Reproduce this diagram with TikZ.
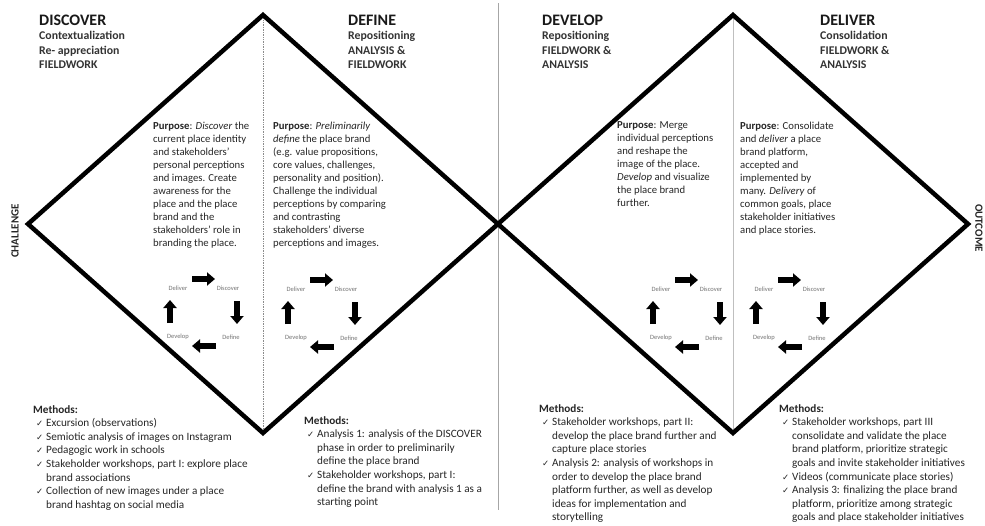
\documentclass[tikz,border=0pt]{standalone}
\usepackage{fontspec}
\setmainfont{Carlito}
\newfontfamily\symfont{DejaVu Sans}
\usetikzlibrary{arrows.meta}
\newcommand\chk{\hspace*{3pt}\makebox[10pt][l]{{\symfont\fontsize{8.5}{8.5}\selectfont ✓}}}
\newcommand\ind{\hspace*{13pt}}
\newcommand\cyc[3]{%
 \begin{scope}[shift={(#1,#2)}]
  \node[cl] (#3a) at (-25,-24) {Deliver};
  \node[cl] (#3b) at (25,-24) {Discover};
  \node[cl] (#3c) at (28,25) {Define};
  \node[cl] (#3d) at (-25,25) {Develop};
  \draw[blk] (-11,-33) -- (12,-33);
  \draw[blk] (34,-11) -- (34,12);
  \draw[blk] (13,34) -- (-11,34);
  \draw[blk] (-33,11) -- (-33,-12);
 \end{scope}}
\begin{document}
\begin{tikzpicture}[x=1pt,y=-1pt,
  title/.style={font=\fontsize{16}{16}\selectfont\bfseries, inner sep=0pt, anchor=base west, text=black!90},
  sub/.style={font=\fontsize{11.8}{14.5}\selectfont\bfseries, inner sep=0pt, anchor=north west, align=left, text=black!80},
  purp/.style={font=\fontsize{10.7}{13}\selectfont, inner sep=0pt, anchor=north west, align=left, text=black!85},
  meth/.style={font=\fontsize{11.2}{13.6}\selectfont, inner sep=0pt, anchor=north west, align=left, text=black!85},
  cl/.style={font=\fontsize{6.5}{6.5}\selectfont, text=black!55, inner sep=0pt},
  blk/.style={line width=6pt, -{Triangle[width=13pt,length=8pt]}},
  side/.style={font=\fontsize{11}{11}\selectfont\bfseries, inner sep=0pt, text=black!85},
  dia/.style={line width=4.5pt, line join=miter}]
\useasboundingbox (0,0) rectangle (985,525);
\fill[white] (0,0) rectangle (985,525);

% guide lines
\draw[black!45, densely dotted, line width=0.7pt] (263,15) -- (263,433);
\draw[black!35, line width=0.6pt] (498,3) -- (498,510);
\draw[black!25, line width=0.6pt] (733,15) -- (733,433);

% diamonds
\coordinate (L1) at (28,224);
\coordinate (T1) at (263,15);
\coordinate (M) at (498,224);
\coordinate (B1) at (263,433);
\coordinate (T2) at (733,15);
\coordinate (R2) at (968,224);
\coordinate (B2) at (733,433);
\draw[dia] (L1) -- (T1) -- (M) -- (B1) -- cycle;
\draw[dia] (M) -- (T2) -- (R2) -- (B2) -- cycle;

% side labels
\node[side, rotate=90] (chal) at (15,231) {CHALLENGE};
\node[side, rotate=-90] (outc) at (979,228) {OUTCOME};

% titles
\node[title] (t1) at (39,25) {DISCOVER};
\node[sub] (s1) at (39,31.5) {Contextualization\\Re- appreciation\\FIELDWORK};
\node[title] (t2) at (348,25) {DEFINE};
\node[sub] (s2) at (348,31.5) {Repositioning\\ANALYSIS \&\\FIELDWORK};
\node[title] (t3) at (542,25) {DEVELOP};
\node[sub] (s3) at (542,31.5) {Repositioning\\FIELDWORK \&\\ANALYSIS};
\node[title] (t4) at (820,25) {DELIVER};
\node[sub] (s4) at (820,31.5) {Consolidation\\FIELDWORK \&\\ANALYSIS};

% purposes
\node[purp] (p1) at (153,121.5) {\textbf{Purpose}: \textit{Discover} the\\current place identity\\and stakeholders'\\personal perceptions\\and images. Create\\awareness for the\\place and the place\\brand and the\\stakeholders' role in\\branding the place.};
\node[purp] (p2) at (273,121.5) {\textbf{Purpose}: \textit{Preliminarily}\\\textit{define} the place brand\\(e.g. value propositions,\\core values, challenges,\\personality and position).\\Challenge the individual\\perceptions by comparing\\and contrasting\\stakeholders' diverse\\perceptions and images.};
\node[purp] (p3) at (617,121.5) {\textbf{Purpose}: Merge\\individual perceptions\\and reshape the\\image of the place.\\\textit{Develop} and visualize\\the place brand\\further.};
\node[purp] (p4) at (740,121.5) {\textbf{Purpose}: Consolidate\\and \textit{deliver} a place\\brand platform,\\accepted and\\implemented by\\many. \textit{Delivery} of\\common goals, place\\stakeholder initiatives\\and place stories.};

% cycles
\cyc{203}{312}{ca}
\cyc{321}{313}{cb}
\cyc{686}{313}{cc}
\cyc{789}{313}{cd}

% methods
\node[meth] (m1) at (33,405) {\textbf{Methods:}\\
\chk Excursion (observations)\\
\chk Semiotic analysis of images on Instagram\\
\chk Pedagogic work in schools\\
\chk Stakeholder workshops, part I: explore place\\
\ind brand associations\\
\chk Collection of new images under a place\\
\ind brand hashtag on social media};
\node[meth] (m2) at (304,416) {\textbf{Methods:}\\
\chk Analysis 1: analysis of the DISCOVER\\
\ind phase in order to preliminarily\\
\ind define the place brand\\
\chk Stakeholder workshops, part I:\\
\ind define the brand with analysis 1 as a\\
\ind starting point};
\node[meth] (m3) at (539,404) {\textbf{Methods:}\\
\chk Stakeholder workshops, part II:\\
\ind develop the place brand further and\\
\ind capture place stories\\
\chk Analysis 2: analysis of workshops in\\
\ind order to develop the place brand\\
\ind platform further, as well as develop\\
\ind ideas for implementation and\\
\ind storytelling};
\node[meth] (m4) at (779,404) {\textbf{Methods:}\\
\chk Stakeholder workshops, part III\\
\ind consolidate and validate the place\\
\ind brand platform, prioritize strategic\\
\ind goals and invite stakeholder initiatives\\
\chk Videos (communicate place stories)\\
\chk Analysis 3: finalizing the place brand\\
\ind platform, prioritize among strategic\\
\ind goals and place stakeholder initiatives};
\end{tikzpicture}
\end{document}
